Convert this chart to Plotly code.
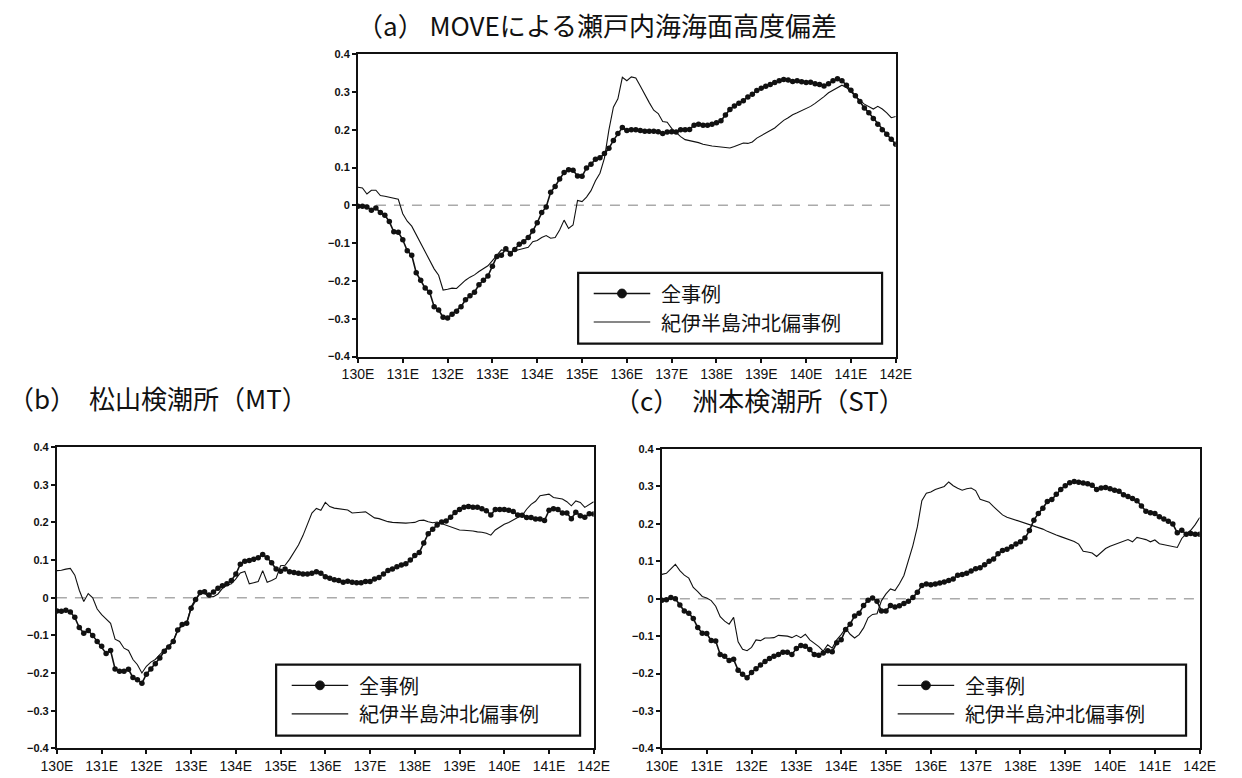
import plotly.graph_objects as go

W, H = 1242, 778

# Longitude grid (0.1 degree steps, 130E-142E)
lon = [round(130 + 0.1 * i, 1) for i in range(121)]

xtick_vals = list(range(130, 143))
xtick_text = [f"{v}E" for v in xtick_vals]
ytick_vals = [0.4, 0.3, 0.2, 0.1, 0, -0.1, -0.2, -0.3, -0.4]
ytick_text = ["0.4", "0.3", "0.2", "0.1", "0", "\u22120.1", "\u22120.2", "\u22120.3", "\u22120.4"]

series_names = ["全事例", "紀伊半島沖北偏事例"]
panel_titles = [
    "（a） MOVEによる瀬戸内海海面高度偏差",
    "（b）　松山検潮所（MT）",
    "（c）　洲本検潮所（ST）",
]

# (a) MOVE: Seto Inland Sea sea-level anomaly
move_all = [
    -0.002, -0.002, -0.004, -0.013, -0.007, -0.019, -0.026, -0.043, -0.070, -0.071,
    -0.091, -0.120, -0.132, -0.178, -0.198, -0.219, -0.230, -0.268, -0.277, -0.296,
    -0.298, -0.288, -0.280, -0.268, -0.250, -0.239, -0.230, -0.210, -0.198, -0.187,
    -0.161, -0.135, -0.132, -0.115, -0.129, -0.117, -0.103, -0.096, -0.085, -0.068,
    -0.046, -0.019, -0.004, 0.035, 0.050, 0.070, 0.087, 0.094, 0.093, 0.078,
    0.077, 0.099, 0.109, 0.122, 0.126, 0.137, 0.151, 0.172, 0.190, 0.206,
    0.198, 0.200, 0.200, 0.198, 0.196, 0.196, 0.196, 0.195, 0.190, 0.194,
    0.195, 0.194, 0.200, 0.200, 0.201, 0.212, 0.215, 0.212, 0.212, 0.215,
    0.219, 0.224, 0.239, 0.254, 0.263, 0.270, 0.277, 0.287, 0.294, 0.304,
    0.310, 0.315, 0.320, 0.325, 0.330, 0.333, 0.332, 0.328, 0.330, 0.327,
    0.325, 0.326, 0.322, 0.320, 0.316, 0.322, 0.330, 0.335, 0.330, 0.318,
    0.305, 0.290, 0.275, 0.258, 0.245, 0.230, 0.215, 0.200, 0.188, 0.175,
    0.162,
]
move_kii = [
    0.048, 0.046, 0.030, 0.040, 0.040, 0.026, 0.024, 0.022, 0.020, 0.016,
    -0.022, -0.042, -0.055, -0.078, -0.100, -0.126, -0.148, -0.168, -0.185, -0.224,
    -0.222, -0.219, -0.220, -0.208, -0.198, -0.190, -0.184, -0.175, -0.167, -0.160,
    -0.146, -0.132, -0.118, -0.120, -0.122, -0.120, -0.117, -0.115, -0.111, -0.096,
    -0.093, -0.085, -0.080, -0.087, -0.085, -0.065, -0.039, -0.061, -0.052, 0.013,
    0.010, 0.022, 0.039, 0.065, 0.085, 0.125, 0.200, 0.260, 0.282, 0.339,
    0.330, 0.340, 0.337, 0.316, 0.292, 0.272, 0.252, 0.243, 0.222, 0.220,
    0.204, 0.193, 0.182, 0.174, 0.172, 0.170, 0.166, 0.162, 0.159, 0.157,
    0.156, 0.155, 0.153, 0.152, 0.156, 0.160, 0.165, 0.164, 0.168, 0.178,
    0.185, 0.190, 0.198, 0.205, 0.215, 0.225, 0.232, 0.240, 0.245, 0.250,
    0.255, 0.262, 0.270, 0.278, 0.288, 0.298, 0.305, 0.312, 0.318, 0.312,
    0.300, 0.290, 0.278, 0.268, 0.262, 0.255, 0.262, 0.255, 0.245, 0.232,
    0.235,
]

# (b) Matsuyama tide station (MT)
mt_all = [
    -0.035, -0.036, -0.033, -0.038, -0.052, -0.079, -0.094, -0.087, -0.100, -0.116,
    -0.129, -0.148, -0.140, -0.189, -0.195, -0.195, -0.190, -0.212, -0.218, -0.227,
    -0.203, -0.189, -0.175, -0.160, -0.142, -0.131, -0.116, -0.086, -0.071, -0.068,
    -0.028, -0.005, 0.014, 0.016, 0.007, 0.015, 0.025, 0.032, 0.037, 0.046,
    0.063, 0.089, 0.097, 0.099, 0.102, 0.106, 0.115, 0.106, 0.093, 0.076,
    0.070, 0.076, 0.069, 0.067, 0.065, 0.063, 0.063, 0.065, 0.069, 0.065,
    0.056, 0.052, 0.048, 0.046, 0.041, 0.044, 0.041, 0.040, 0.040, 0.043,
    0.043, 0.050, 0.054, 0.063, 0.072, 0.076, 0.082, 0.087, 0.090, 0.100,
    0.112, 0.120, 0.145, 0.170, 0.182, 0.193, 0.201, 0.204, 0.214, 0.226,
    0.234, 0.240, 0.242, 0.240, 0.240, 0.236, 0.231, 0.220, 0.234, 0.234,
    0.234, 0.232, 0.229, 0.220, 0.219, 0.213, 0.213, 0.209, 0.209, 0.205,
    0.232, 0.236, 0.234, 0.225, 0.225, 0.210, 0.227, 0.218, 0.214, 0.223,
    0.222,
]
mt_kii = [
    0.072, 0.073, 0.076, 0.078, 0.060, 0.020, -0.010, 0.011, 0.000, -0.030,
    -0.045, -0.058, -0.068, -0.110, -0.116, -0.134, -0.140, -0.164, -0.178, -0.200,
    -0.182, -0.171, -0.164, -0.151, -0.140, -0.127, -0.115, -0.086, -0.075, -0.068,
    -0.024, -0.003, 0.010, 0.012, 0.002, 0.003, 0.010, 0.025, 0.033, 0.037,
    0.050, 0.066, 0.070, 0.037, 0.040, 0.043, 0.072, 0.041, 0.046, 0.052,
    0.085, 0.086, 0.102, 0.122, 0.140, 0.165, 0.195, 0.225, 0.237, 0.232,
    0.253, 0.242, 0.238, 0.236, 0.235, 0.233, 0.225, 0.227, 0.227, 0.228,
    0.220, 0.212, 0.210, 0.205, 0.202, 0.200, 0.199, 0.198, 0.198, 0.199,
    0.200, 0.205, 0.206, 0.202, 0.199, 0.201, 0.197, 0.193, 0.187, 0.183,
    0.180, 0.179, 0.179, 0.177, 0.175, 0.174, 0.171, 0.166, 0.180, 0.188,
    0.195, 0.200, 0.207, 0.213, 0.218, 0.235, 0.248, 0.256, 0.271, 0.273,
    0.275, 0.266, 0.265, 0.262, 0.255, 0.244, 0.257, 0.253, 0.240, 0.247,
    0.255,
]

# (c) Sumoto tide station (ST)
st_all = [
    -0.004, -0.003, 0.003, 0.000, -0.017, -0.033, -0.039, -0.053, -0.077, -0.092,
    -0.093, -0.112, -0.113, -0.149, -0.154, -0.165, -0.162, -0.191, -0.202, -0.211,
    -0.197, -0.187, -0.177, -0.168, -0.160, -0.154, -0.149, -0.143, -0.143, -0.149,
    -0.133, -0.125, -0.127, -0.136, -0.149, -0.151, -0.145, -0.139, -0.142, -0.118,
    -0.110, -0.082, -0.068, -0.046, -0.039, -0.018, -0.004, 0.002, -0.007, -0.033,
    -0.033, -0.018, -0.022, -0.019, -0.013, -0.007, 0.003, 0.017, 0.035, 0.039,
    0.037, 0.039, 0.042, 0.045, 0.049, 0.053, 0.063, 0.065, 0.068, 0.074,
    0.080, 0.083, 0.091, 0.100, 0.106, 0.120, 0.129, 0.132, 0.139, 0.146,
    0.152, 0.162, 0.182, 0.210, 0.228, 0.242, 0.260, 0.265, 0.279, 0.292,
    0.302, 0.310, 0.313, 0.311, 0.309, 0.307, 0.303, 0.292, 0.296, 0.297,
    0.294, 0.290, 0.287, 0.278, 0.273, 0.268, 0.262, 0.248, 0.234, 0.230,
    0.228, 0.219, 0.213, 0.207, 0.200, 0.176, 0.183, 0.172, 0.174, 0.172,
    0.172,
]
st_kii = [
    0.065, 0.068, 0.080, 0.092, 0.075, 0.063, 0.055, 0.030, 0.019, 0.006,
    0.002, -0.005, -0.020, -0.048, -0.060, -0.068, -0.050, -0.115, -0.135, -0.139,
    -0.130, -0.110, -0.112, -0.105, -0.105, -0.104, -0.098, -0.098, -0.100, -0.104,
    -0.098, -0.104, -0.095, -0.110, -0.118, -0.128, -0.140, -0.123, -0.132, -0.110,
    -0.096, -0.079, -0.095, -0.105, -0.096, -0.078, -0.051, -0.042, -0.040, -0.005,
    0.013, 0.026, 0.022, 0.040, 0.062, 0.100, 0.142, 0.192, 0.262, 0.282,
    0.285, 0.292, 0.296, 0.300, 0.312, 0.302, 0.295, 0.290, 0.294, 0.296,
    0.289, 0.266, 0.262, 0.258, 0.246, 0.236, 0.224, 0.218, 0.214, 0.210,
    0.207, 0.204, 0.199, 0.195, 0.190, 0.186, 0.180, 0.174, 0.170, 0.166,
    0.162, 0.158, 0.153, 0.146, 0.127, 0.125, 0.122, 0.113, 0.123, 0.134,
    0.140, 0.144, 0.149, 0.154, 0.158, 0.152, 0.164, 0.161, 0.158, 0.152,
    0.157, 0.147, 0.144, 0.142, 0.139, 0.137, 0.161, 0.174, 0.183, 0.198,
    0.217,
]

panels = [(move_all, move_kii), (mt_all, mt_kii), (st_all, st_kii)]
for a, k in panels:
    assert len(a) == len(lon) and len(k) == len(lon)

# Plot-area boxes in pixels: left, right, top, bottom
boxes = [
    (351, 903, 49, 356),
    (42, 593, 448, 754),
    (663, 1215, 450, 754),
]
title_pos = [(596, 19, "center"), (-10, 398, "left"), (612, 400, "left")]

INK = "#111111"
TICK_FONT = "Liberation Sans, Arial, sans-serif"
JP_FONT = "Noto Sans CJK JP, sans-serif"
LEGEND_SIZE = 20
ROW_GAP = 29


def px(x):
    return x / W


def py(y):
    return 1 - y / H


fig = go.Figure()
shapes = []
annotations = []
layout_axes = {}

for i, ((all_vals, kii_vals), (l, r, t, b)) in enumerate(zip(panels, boxes), start=1):
    xa = "x" if i == 1 else f"x{i}"
    ya = "y" if i == 1 else f"y{i}"
    xkey = "xaxis" if i == 1 else f"xaxis{i}"
    ykey = "yaxis" if i == 1 else f"yaxis{i}"

    fig.add_trace(go.Scatter(
        x=lon, y=kii_vals, mode="lines", name=series_names[1],
        line=dict(color=INK, width=1.1), xaxis=xa, yaxis=ya, showlegend=False,
    ))
    fig.add_trace(go.Scatter(
        x=lon, y=all_vals, mode="lines+markers", name=series_names[0],
        line=dict(color=INK, width=1.6), marker=dict(size=5.5, color=INK),
        xaxis=xa, yaxis=ya, showlegend=False,
    ))

    common = dict(
        showline=True, mirror=True, linecolor=INK, linewidth=2,
        ticks="outside", ticklen=4, tickwidth=1.5, tickcolor=INK,
        showgrid=False, zeroline=False,
    )
    layout_axes[xkey] = dict(
        domain=[px(l), px(r)], anchor=ya, range=[130, 142],
        tickvals=xtick_vals, ticktext=xtick_text,
        tickfont=dict(family=TICK_FONT, size=14, color=INK), **common,
    )
    layout_axes[ykey] = dict(
        domain=[py(b), py(t)], anchor=xa, range=[-0.4, 0.4],
        tickvals=ytick_vals, ticktext=ytick_text,
        tickfont=dict(family=TICK_FONT, size=11, color=INK, weight="bold"), **common,
    )

    # dashed zero reference line
    shapes.append(dict(
        type="line", xref=f"{xa} domain", yref=ya, x0=0, x1=1, y0=0, y1=0,
        line=dict(color="#aaaaaa", width=1.5, dash="10px,8px"), layer="below",
    ))

    # legend box
    lw, lh = 312, 72
    lr = r - 14
    lb = b - 13
    ll = lr - lw
    lt = lb - lh
    shapes.append(dict(
        type="rect", xref="paper", yref="paper",
        x0=px(ll), x1=px(lr), y0=py(lb), y1=py(lt),
        line=dict(color=INK, width=2.2), fillcolor="white", layer="above",
    ))
    row0 = lt + 21
    for j, name in enumerate(series_names):
        yy = row0 + ROW_GAP * j
        shapes.append(dict(
            type="line", xref="paper", yref="paper",
            x0=px(ll + 16), x1=px(ll + 74), y0=py(yy), y1=py(yy),
            line=dict(color=INK, width=1.4 if j == 0 else 1.1), layer="above",
        ))
        if j == 0:
            rr = 4.5
            shapes.append(dict(
                type="circle", xref="paper", yref="paper",
                x0=px(ll + 45 - rr), x1=px(ll + 45 + rr),
                y0=py(yy + rr), y1=py(yy - rr),
                line=dict(color=INK, width=1), fillcolor=INK, layer="above",
            ))
        annotations.append(dict(
            text=name, xref="paper", yref="paper", x=px(ll + 83), y=py(yy),
            xanchor="left", yanchor="middle", showarrow=False,
            font=dict(family=JP_FONT, size=LEGEND_SIZE, color=INK),
        ))

    tx, ty, anchor = title_pos[i - 1]
    annotations.append(dict(
        text=panel_titles[i - 1], xref="paper", yref="paper", x=px(tx), y=py(ty),
        xanchor=anchor, yanchor="middle", showarrow=False,
        font=dict(family=JP_FONT, size=26, color=INK),
    ))

fig.update_layout(
    width=W, height=H, autosize=False,
    margin=dict(l=0, r=0, t=0, b=0),
    paper_bgcolor="white", plot_bgcolor="white",
    showlegend=False,
    shapes=shapes, annotations=annotations,
    **layout_axes,
)

fig.write_html("out.html")
